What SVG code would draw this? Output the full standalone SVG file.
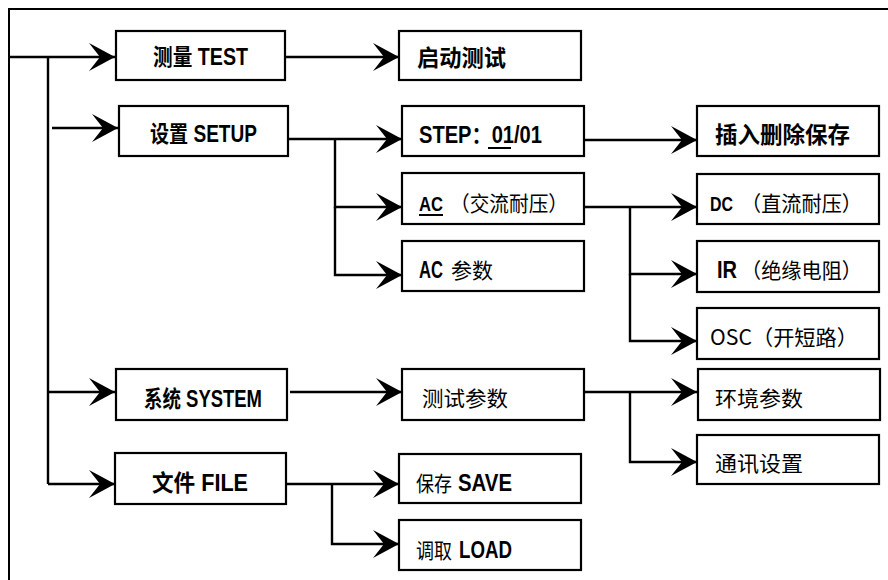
<svg xmlns="http://www.w3.org/2000/svg" width="888" height="580" viewBox="0 0 888 580">
<defs>
<marker id="ah" viewBox="0 0 26 28" refX="26" refY="14" markerWidth="26" markerHeight="28" markerUnits="userSpaceOnUse" orient="auto">
<path d="M0,0 L26,14 L0,28 L11,14 Z" fill="#000"/>
</marker>
<style>
.box{fill:#fff;stroke:#000;stroke-width:2.2}
.ln{fill:none;stroke:#000;stroke-width:2.4}
.ar{marker-end:url(#ah)}
.ul{stroke:#000;stroke-width:2}
text{font-family:"Liberation Sans","Noto Sans CJK SC",sans-serif;font-size:23px;fill:#000}
.b{font-weight:bold}
.s{font-size:21px}
.r{font-weight:normal;font-family:"Noto Sans CJK SC",sans-serif;font-size:21px}
</style>
</defs>
<rect width="888" height="580" fill="#fff"/>
<path d="M9,580 V9 H890" fill="none" stroke="#000" stroke-width="2"/>
<g id="connectors">
<path class="ln ar" d="M9,57 H115"/>
<path class="ln" d="M48,57 V484"/>
<path class="ln ar" d="M52,128 H118"/>
<path class="ln ar" d="M48,392 H115"/>
<path class="ln ar" d="M48,484 H115"/>
<path class="ln ar" d="M285,57 H399"/>
<path class="ln ar" d="M288,139 H402"/>
<path class="ln ar" d="M335,139 V207 H402"/>
<path class="ln ar" d="M335,207 V275 H402"/>
<path class="ln ar" d="M584,140 H697"/>
<path class="ln ar" d="M584,207 H697"/>
<path class="ln ar" d="M630,207 V274 H697"/>
<path class="ln ar" d="M630,274 V341 H697"/>
<path class="ln ar" d="M290,392 H402"/>
<path class="ln ar" d="M584,392 H697"/>
<path class="ln ar" d="M630,392 V462 H697"/>
<path class="ln ar" d="M286,484 H399"/>
<path class="ln ar" d="M332,484 V544 H399"/>
</g>
<g id="test"><rect class="box" x="116" y="31" width="169" height="49"/><text class="b" x="153" y="65" textLength="95" lengthAdjust="spacingAndGlyphs">测量 TEST</text></g>
<g id="setup"><rect class="box" x="119" y="106" width="169" height="50"/><text class="b" x="150" y="142" textLength="107" lengthAdjust="spacingAndGlyphs">设置 SETUP</text></g>
<g id="system"><rect class="box" x="116" y="369" width="171" height="51"/><text class="b" x="144" y="407" textLength="118" lengthAdjust="spacingAndGlyphs">系统 SYSTEM</text></g>
<g id="file"><rect class="box" x="115" y="453" width="171" height="51"/><text class="b" x="152" y="491" textLength="96" lengthAdjust="spacingAndGlyphs">文件 FILE</text></g>
<g id="start"><rect class="box" x="399" y="31" width="182" height="49"/><text class="b" x="417" y="66" textLength="89" lengthAdjust="spacingAndGlyphs">启动测试</text></g>
<g id="step"><rect class="box" x="402" y="106" width="182" height="50"/><text class="b" x="419" y="143" textLength="123" lengthAdjust="spacingAndGlyphs">STEP：01/01</text><line class="ul" x1="488" y1="148" x2="511" y2="148"/></g>
<g id="ac"><rect class="box" x="402" y="173" width="182" height="51"/><text class="b s" x="419" y="211" textLength="24" lengthAdjust="spacingAndGlyphs">AC</text><text class="r" x="450" y="211" textLength="118" lengthAdjust="spacingAndGlyphs">（交流耐压）</text><line class="ul" x1="419" y1="215" x2="443" y2="215"/></g>
<g id="acparam"><rect class="box" x="402" y="241" width="182" height="50"/><text class="b" x="419" y="278" textLength="24" lengthAdjust="spacingAndGlyphs">AC</text><text class="r" x="451" y="278" textLength="42" lengthAdjust="spacingAndGlyphs">参数</text></g>
<g id="insert"><rect class="box" x="697" y="106" width="182" height="50"/><text class="b" x="715" y="143" textLength="135" lengthAdjust="spacingAndGlyphs">插入删除保存</text></g>
<g id="dc"><rect class="box" x="697" y="174" width="182" height="50"/><text class="b s" x="710" y="211" textLength="23" lengthAdjust="spacingAndGlyphs">DC</text><text class="r" x="741" y="211" textLength="121" lengthAdjust="spacingAndGlyphs">（直流耐压）</text></g>
<g id="ir"><rect class="box" x="697" y="241" width="182" height="51"/><text class="b" x="717" y="278" textLength="20" lengthAdjust="spacingAndGlyphs">IR</text><text class="r" x="741" y="278" textLength="121" lengthAdjust="spacingAndGlyphs">（绝缘电阻）</text></g>
<g id="osc"><rect class="box" x="697" y="308" width="182" height="51"/><text class="r" x="710" y="345" textLength="148" lengthAdjust="spacingAndGlyphs">OSC（开短路）</text></g>
<g id="testparam"><rect class="box" x="402" y="369" width="182" height="51"/><text class="r" x="422" y="406" textLength="86" lengthAdjust="spacingAndGlyphs">测试参数</text></g>
<g id="env"><rect class="box" x="698" y="369" width="182" height="51"/><text class="r" x="715" y="406" textLength="88" lengthAdjust="spacingAndGlyphs">环境参数</text></g>
<g id="comm"><rect class="box" x="697" y="435" width="182" height="49"/><text class="r" x="715" y="471" textLength="88" lengthAdjust="spacingAndGlyphs">通讯设置</text></g>
<g id="save"><rect class="box" x="399" y="454" width="182" height="49"/><text class="r" x="416" y="491" textLength="36" lengthAdjust="spacingAndGlyphs">保存</text><text class="b" x="458" y="491" textLength="54" lengthAdjust="spacingAndGlyphs">SAVE</text></g>
<g id="load"><rect class="box" x="399" y="520" width="182" height="50"/><text class="r" x="416" y="558" textLength="36" lengthAdjust="spacingAndGlyphs">调取</text><text class="b" x="459" y="558" textLength="53" lengthAdjust="spacingAndGlyphs">LOAD</text></g>
</svg>
